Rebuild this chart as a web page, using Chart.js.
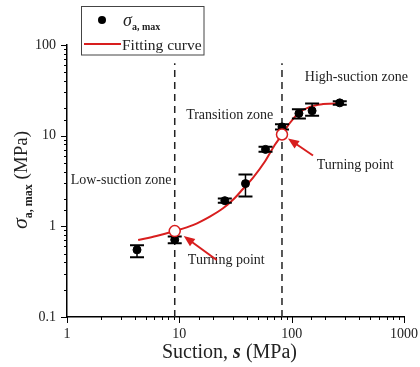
<!DOCTYPE html>
<html lang="en">
<head>
<meta charset="UTF-8">
<title>Peak stress vs suction</title>
<style>
  html, body { margin: 0; padding: 0; background: #fff; }
  #wrap { width: 420px; height: 367px; }
</style>
</head>
<body>
<div id="wrap"><canvas id="chart" width="420" height="367"></canvas></div>
<script src="https://cdn.jsdelivr.net/npm/chart.js"></script>
<script>
// measured peak stress with scatter range
const suction   = [4.2, 9.1, 25.4, 38.8, 58.5, 82, 116, 152, 268];
const sigmaMax  = [0.55, 0.71, 1.92, 2.96, 7.06, 12.5, 17.6, 18.8, 23.0];
const sigmaLow  = [0.455, 0.65, 1.82, 2.14, 6.63, 11.7, 15.5, 16.6, 21.9];
const sigmaHigh = [0.62, 0.77, 2.03, 3.74, 7.55, 13.4, 19.5, 22.7, 24.0];

// fitted curve
const fitS     = [4.3, 6.25, 9.1, 13.2, 18.7, 24.5, 31, 37, 45, 57.6, 70.7, 82.2, 96, 114, 145, 190, 251, 287];
const fitSigma = [0.706, 0.782, 0.887, 1.03, 1.28, 1.58, 2.04, 2.6, 3.4, 5.15, 7.88, 10.3, 13.7, 17.6, 20.8, 22.3, 22.7, 22.7];

// turning points, also the zone boundaries
const turnS     = [9.1, 82];
const turnSigma = [0.887, 10.3];
const zoneTop = 63;

const xTicks = [1, 10, 100, 1000];
const yTicks = [0.1, 1, 10, 100];

const RED = '#d81e1e';
const SERIF = "'Liberation Serif', 'Times New Roman', serif";

const isDecade = v => { const l = Math.log10(v); return Math.abs(l - Math.round(l)) < 1e-6; };

// zone labels and turning-point labels (data anchors)
const notes = [
  { text: 'Low-suction zone', s: 8.5, y: 3.24, align: 'right' },
  { text: 'Transition zone', s: 11.5, y: 16.9, align: 'left' },
  { text: 'High-suction zone', s: 131, y: 44, align: 'left' },
  { text: 'Turning point', s: 11.9, y: 0.42, align: 'left' },
  { text: 'Turning point', s: 167, y: 4.74, align: 'left' }
];

const overlay = {
  id: 'overlay',
  afterDatasetDraw(chart, args) {
    if (args.index !== 1) return;
    // error bars
    const ctx = chart.ctx, xs = chart.scales.x, ys = chart.scales.y;
    ctx.save();
    ctx.strokeStyle = '#000';
    suction.forEach((s, i) => {
      const x = xs.getPixelForValue(s);
      const y1 = ys.getPixelForValue(sigmaLow[i]);
      const y2 = ys.getPixelForValue(sigmaHigh[i]);
      ctx.lineWidth = 1.5;
      ctx.beginPath(); ctx.moveTo(x, y1); ctx.lineTo(x, y2); ctx.stroke();
      ctx.lineWidth = 2;
      ctx.beginPath();
      ctx.moveTo(x - 7, y1); ctx.lineTo(x + 7, y1);
      ctx.moveTo(x - 7, y2); ctx.lineTo(x + 7, y2);
      ctx.stroke();
    });
    ctx.restore();
  },
  afterDraw(chart) {
    const ctx = chart.ctx, xs = chart.scales.x, ys = chart.scales.y, a = chart.chartArea;
    ctx.save();

    // tick marks, long at decades
    ctx.strokeStyle = '#000';
    ctx.lineWidth = 1;
    ctx.beginPath();
    xs.ticks.forEach(t => {
      const x = Math.round(xs.getPixelForValue(t.value)) + 0.5;
      ctx.moveTo(x, a.bottom); ctx.lineTo(x, a.bottom + (isDecade(t.value) ? 6 : 3));
    });
    ys.ticks.forEach(t => {
      const y = Math.round(ys.getPixelForValue(t.value)) + 0.5;
      ctx.moveTo(a.left, y); ctx.lineTo(a.left - (isDecade(t.value) ? 6 : 3), y);
    });
    ctx.stroke();

    // notes
    ctx.fillStyle = '#222';
    ctx.font = '14px ' + SERIF;
    ctx.textBaseline = 'middle';
    notes.forEach(n => {
      ctx.textAlign = n.align;
      ctx.fillText(n.text, xs.getPixelForValue(n.s), ys.getPixelForValue(n.y));
    });

    // arrows to the turning points
    const arrow = (x1, y1, x2, y2) => {
      const ang = Math.atan2(y2 - y1, x2 - x1);
      ctx.strokeStyle = RED; ctx.fillStyle = RED; ctx.lineWidth = 2;
      ctx.beginPath();
      ctx.moveTo(x1, y1);
      ctx.lineTo(x2 - 8 * Math.cos(ang), y2 - 8 * Math.sin(ang));
      ctx.stroke();
      ctx.beginPath();
      ctx.moveTo(x2, y2);
      ctx.lineTo(x2 - 11 * Math.cos(ang) + 4.5 * Math.sin(ang), y2 - 11 * Math.sin(ang) - 4.5 * Math.cos(ang));
      ctx.lineTo(x2 - 11 * Math.cos(ang) - 4.5 * Math.sin(ang), y2 - 11 * Math.sin(ang) + 4.5 * Math.cos(ang));
      ctx.closePath();
      ctx.fill();
    };
    const p1x = xs.getPixelForValue(turnS[0]), p1y = ys.getPixelForValue(turnSigma[0]);
    const p2x = xs.getPixelForValue(turnS[1]), p2y = ys.getPixelForValue(turnSigma[1]);
    arrow(p1x + 42, p1y + 29, p1x + 9, p1y + 5);
    arrow(p2x + 31, p2y + 21, p2x + 6, p2y + 4);

    // axis titles
    ctx.fillStyle = '#222';
    ctx.textAlign = 'left';
    ctx.textBaseline = 'alphabetic';
    const xParts = [
      ['Suction, ', '20px ' + SERIF],
      ['s', 'italic bold 20px ' + SERIF],
      [' (MPa)', '20px ' + SERIF]
    ];
    let w = 0;
    xParts.forEach(p => { ctx.font = p[1]; w += ctx.measureText(p[0]).width; });
    let cx = (a.left + a.right) / 2 - 6 - w / 2;
    xParts.forEach(p => { ctx.font = p[1]; ctx.fillText(p[0], cx, 358); cx += ctx.measureText(p[0]).width; });

    ctx.save();
    ctx.translate(27, 180);
    ctx.rotate(-Math.PI / 2);
    const yParts = [
      ['σ', 'italic 22px ' + SERIF, 0],
      ['a, max', 'bold 12px ' + SERIF, 5],
      [' (MPa)', '19px ' + SERIF, 0]
    ];
    w = 0;
    yParts.forEach(p => { ctx.font = p[1]; w += ctx.measureText(p[0]).width; });
    cx = -w / 2;
    yParts.forEach(p => { ctx.font = p[1]; ctx.fillText(p[0], cx, p[2]); cx += ctx.measureText(p[0]).width; });
    ctx.restore();

    // legend
    ctx.strokeStyle = '#444';
    ctx.lineWidth = 1;
    ctx.strokeRect(81.5, 6.5, 122.5, 48.5);
    ctx.fillStyle = '#000';
    ctx.beginPath(); ctx.arc(102, 20, 4, 0, Math.PI * 2); ctx.fill();
    ctx.fillStyle = '#222';
    ctx.font = 'italic 18px ' + SERIF;
    ctx.fillText('σ', 123, 26);
    let sx = 123 + ctx.measureText('σ').width;
    ctx.font = 'bold 10px ' + SERIF;
    ctx.fillText('a, max', sx, 30);
    ctx.strokeStyle = RED; ctx.lineWidth = 2;
    ctx.beginPath(); ctx.moveTo(84, 44); ctx.lineTo(121, 44); ctx.stroke();
    ctx.font = '15.5px ' + SERIF;
    ctx.fillText('Fitting curve', 122, 49.5);

    ctx.restore();
  }
};

const pts = (xs, ys) => xs.map((x, i) => ({ x: x, y: ys[i] }));

new Chart(document.getElementById('chart'), {
  type: 'scatter',
  data: {
    datasets: [
      {
        label: 'Turning point',
        data: pts(turnS, turnSigma),
        pointRadius: 5.5,
        pointBorderWidth: 1.5,
        pointBackgroundColor: '#fff',
        pointBorderColor: RED
      },
      {
        label: 'σa,max',
        data: pts(suction, sigmaMax),
        pointRadius: 4,
        pointBackgroundColor: '#000',
        pointBorderColor: '#000'
      },
      {
        label: 'Fitting curve',
        data: pts(fitS, fitSigma),
        showLine: true,
        cubicInterpolationMode: 'monotone',
        borderColor: RED,
        borderWidth: 2,
        pointRadius: 0
      },
      {
        label: 'bound 1',
        data: [{ x: turnS[0], y: 0.1 }, { x: turnS[0], y: zoneTop }],
        showLine: true,
        borderColor: '#222',
        borderWidth: 1.5,
        borderDash: [7, 5],
        pointRadius: 0
      },
      {
        label: 'bound 2',
        data: [{ x: turnS[1], y: 0.1 }, { x: turnS[1], y: zoneTop }],
        showLine: true,
        borderColor: '#222',
        borderWidth: 1.5,
        borderDash: [7, 5],
        pointRadius: 0
      }
    ]
  },
  options: {
    responsive: false,
    animation: false,
    layout: { padding: { left: 0, top: 45, right: 16, bottom: 0 } },
    plugins: { legend: { display: false }, tooltip: { enabled: false } },
    scales: {
      x: {
        type: 'logarithmic',
        min: xTicks[0],
        max: xTicks[xTicks.length - 1],
        grid: { display: false, drawTicks: false },
        border: { display: true, color: '#000', width: 1.5 },
        ticks: {
          color: '#222',
          font: { family: SERIF, size: 14 },
          padding: 9,
          autoSkip: false,
          maxRotation: 0,
          callback: v => xTicks.includes(v) ? String(v) : ''
        },
        afterFit: s => { s.height = 50; s.paddingLeft = 0; s.paddingRight = 0; }
      },
      y: {
        type: 'logarithmic',
        min: yTicks[0],
        max: yTicks[yTicks.length - 1],
        grid: { display: false, drawTicks: false },
        border: { display: true, color: '#000', width: 1.5 },
        ticks: {
          color: '#222',
          font: { family: SERIF, size: 14 },
          padding: 11,
          autoSkip: false,
          callback: v => isDecade(v) ? String(v) : ''
        },
        afterFit: s => { s.width = 67; s.paddingTop = 0; s.paddingBottom = 0; }
      }
    }
  },
  plugins: [overlay]
});
</script>
</body>
</html>
